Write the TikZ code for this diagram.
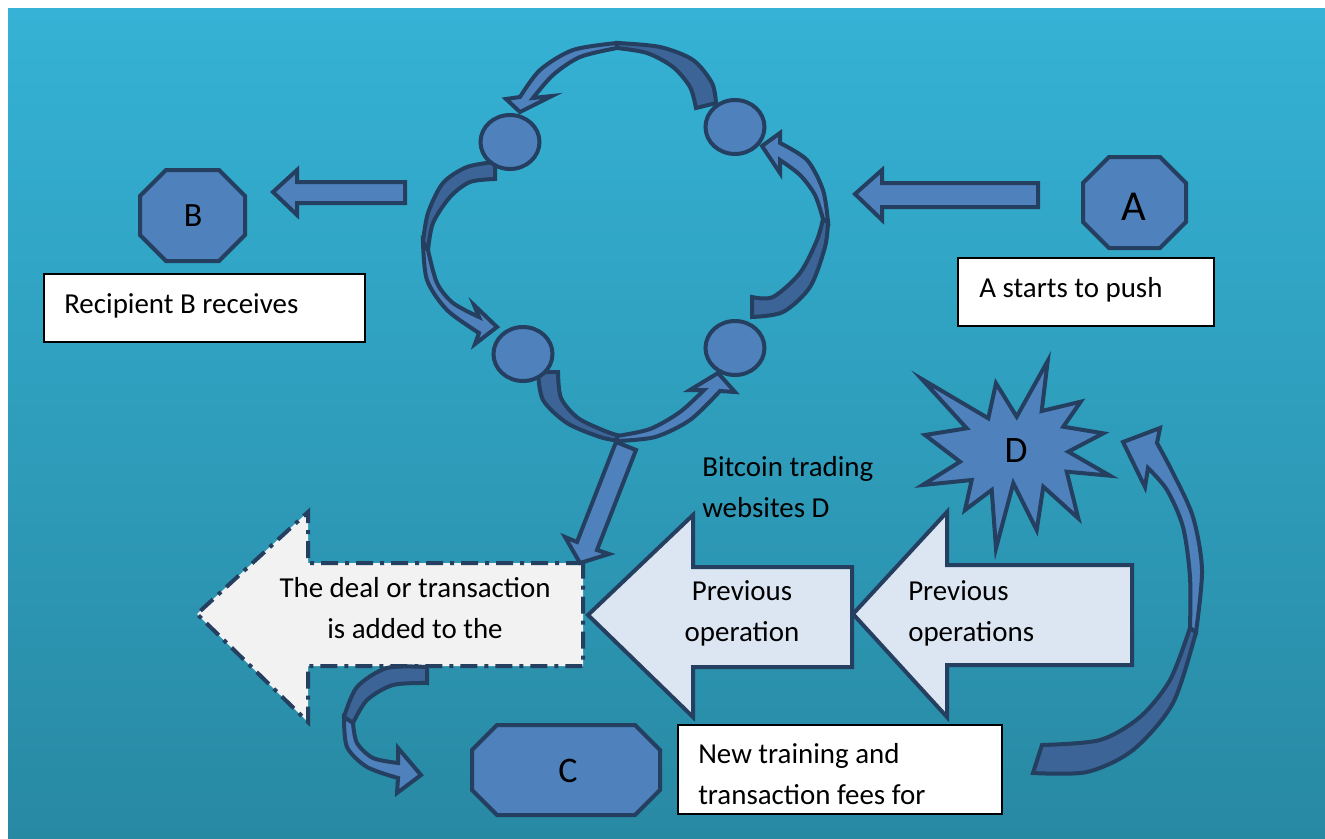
\documentclass[tikz,border=0pt]{standalone}
\usepackage{fontspec}
\setmainfont{Carlito}
\usetikzlibrary{shapes.geometric}
\definecolor{bgtop}{RGB}{53,178,213}
\definecolor{bgbot}{RGB}{40,137,163}
\definecolor{myblue}{RGB}{79,129,189}
\definecolor{myback}{RGB}{60,100,150}
\definecolor{mynavy}{RGB}{36,63,96}
\definecolor{mypale}{RGB}{220,230,242}
\definecolor{mygrey}{RGB}{242,242,242}
\newcommand{\bodyfont}{\fontsize{21.7}{30.75}\selectfont}
% octagon from its corners: x1, y1, x2, y2, chamfer
\newcommand{\octabox}[5]{%
  \draw[blueshape] ({#1+#5},#2) -- ({#3-#5},#2) -- (#3,{#2+#5}) -- (#3,{#4-#5})
    -- ({#3-#5},#4) -- ({#1+#5},#4) -- (#1,{#4-#5}) -- (#1,{#2+#5}) -- cycle;}
\tikzset{
  blueshape/.style={draw=mynavy, fill=myblue, line width=3pt},
  backshape/.style={draw=mynavy, fill=myback, line width=3pt},
  bigarrow/.style={draw=mynavy, fill=mypale, line width=3pt},
  dealarrow/.style={draw=mynavy, fill=mygrey, line width=3pt,
    dash pattern=on 12.75pt off 5.25pt on 3pt off 5.25pt},
  peer/.style={ellipse, draw=mynavy, fill=myblue, line width=3pt,
    minimum width=44.25pt, minimum height=40.5pt, inner sep=0pt},
  txtbox/.style={rectangle, draw=black, fill=white, line width=1.5pt,
    inner sep=0pt, outer sep=0pt, anchor=north west},
  txt/.style={font=\bodyfont, inner sep=0pt}
}

\begin{document}
\begin{tikzpicture}[x=0.75pt, y=-0.75pt]
  \useasboundingbox (0,0) rectangle (1325,839);
  \fill[white] (0,0) rectangle (1325,839);
  \shade[top color=bgtop, bottom color=bgbot] (8,8) rectangle (1325,839);

  % big arrows along the bottom
  \draw[bigarrow] (1132,565) -- (947,565) -- (947,512) -- (853,614) -- (947,717) -- (947,665) -- (1132,665) -- cycle;
  \draw[bigarrow] (852,567) -- (693,567) -- (693,515) -- (588,615) -- (693,717) -- (693,667) -- (852,667) -- cycle;
  \draw[dealarrow] (583,563) -- (308,563) -- (308,512) -- (197,614) -- (308,722) -- (308,666) -- (583,666) -- cycle;

  % ring drops down into the deal arrow
  \draw[blueshape] (636,450) -- (597,550) -- (609,554) -- (580,563) -- (565,537) -- (577,542) -- (616,442) -- cycle;

  % ring of curved arrows: top
  \draw[backshape] plot[smooth] coordinates {(716,103) (712,83) (693,60) (660,47) (617,43)}
    -- plot[smooth] coordinates {(617,48) (647,53) (673,67) (690,87) (696,108)} -- cycle;
  \draw[blueshape] plot[smooth] coordinates {(617,43) (573,50) (540,70) (520,97)}
    -- (506,99) -- (520,112) -- (552,96)
    -- plot[smooth] coordinates {(533,98) (553,75) (580,57) (617,48)} -- cycle;
  % left
  \draw[backshape] plot[smooth] coordinates {(495,162) (467,167) (443,183) (428,213) (423,242)}
    -- plot[smooth] coordinates {(428,250) (433,223) (450,197) (470,182) (495,179)} -- cycle;
  \draw[blueshape] plot[smooth] coordinates {(423,242) (427,280) (447,310) (479,333)}
    -- (475,344) -- (497,327) -- (474,305)
    -- plot[smooth] coordinates {(479,317) (453,303) (437,283) (428,250)} -- cycle;
  % bottom
  \draw[backshape] plot[smooth] coordinates {(538,372) (543,400) (567,423) (600,437) (620,441)}
    -- plot[smooth] coordinates {(620,436) (605,431) (578,418) (561,398) (558,372)} -- cycle;
  \draw[blueshape] plot[smooth] coordinates {(617,441) (655,437) (690,420) (720,391)}
    -- (735,392) -- (718,373) -- (690,390)
    -- plot[smooth] coordinates {(704,390) (680,412) (650,429) (617,436)} -- cycle;
  % right
  \draw[backshape] plot[smooth] coordinates {(752,317) (783,312) (810,287) (825,247) (828,222)}
    -- plot[smooth] coordinates {(823,219) (817,240) (800,273) (773,297) (752,297)} -- cycle;
  \draw[blueshape] plot[smooth] coordinates {(828,222) (823,190) (807,160) (780,143)}
    -- (780,133) -- (762,146) -- (780,173)
    -- plot[smooth] coordinates {(780,160) (800,175) (815,195) (823,219)} -- cycle;

  % peers on the ring
  \node[peer] (p1) at (510,142) {};
  \node[peer] (p2) at (735,127) {};
  \node[peer] (p3) at (523,354) {};
  \node[peer] (p4) at (735,348) {};

  % side arrows
  \draw[blueshape] (1038,183) -- (882,183) -- (882,170) -- (855,194) -- (882,220) -- (882,207) -- (1038,207) -- cycle;
  \draw[blueshape] (405,182) -- (297,182) -- (297,170) -- (273,192) -- (297,215) -- (297,203) -- (405,203) -- cycle;

  % curved arrow down to C
  \draw[backshape] plot[smooth] coordinates {(427,667) (387,668) (357,687) (344,717)}
    -- plot[smooth] coordinates {(353,723) (367,700) (393,685) (427,683)} -- cycle;
  \draw[blueshape] plot[smooth] coordinates {(344,717) (347,747) (367,767) (398,778)}
    -- (397,793) -- (421,775) -- (398,748)
    -- plot[smooth] coordinates {(398,763) (373,758) (357,743) (353,723)} -- cycle;

  % curved arrow up to D
  \draw[backshape] plot[smooth] coordinates {(1033,773) (1087,772) (1133,750) (1173,703) (1196,632)}
    -- plot[smooth] coordinates {(1190,628) (1170,680) (1140,717) (1100,740) (1042,745)} -- cycle;
  \draw[blueshape] plot[smooth] coordinates {(1196,632) (1202,570) (1193,517) (1173,473) (1157,443)}
    -- (1160,428) -- (1123,442) -- (1145,487)
    -- plot[smooth] coordinates {(1148,468) (1167,490) (1183,527) (1190,577) (1190,628)} -- cycle;

  % parties
  \octabox{1083}{157}{1186}{248}{26}
  \octabox{140}{170}{245}{261}{26}
  \octabox{472}{725}{660}{815}{25}
  \draw[blueshape] (1047.7,361) -- (1041.7,411) -- (1080.7,401.7) -- (1063.3,426.7)
    -- (1103.3,433.3) -- (1068.3,451.7) -- (1110,475.7) -- (1066.7,471.7)
    -- (1078.3,518.3) -- (1043.3,486.7) -- (1036.7,530) -- (1013.3,483.3)
    -- (996,548.3) -- (991.7,490) -- (965,510) -- (971.7,480)
    -- (922.7,485) -- (960,461.7) -- (925,435) -- (966.7,428.3)
    -- (921.7,379) -- (988.3,418.3) -- (996,383.3) -- (1016.7,416.7) -- cycle;

  \node[font=\fontsize{32}{32}\selectfont] (A) at (1134,207) {A};
  \node[font=\fontsize{25.5}{26}\selectfont] (B) at (193,216) {B};
  \node[font=\fontsize{27}{27}\selectfont] (C) at (568,771) {C};
  \node[font=\fontsize{28}{28}\selectfont] (D) at (1016,451) {D};

  % captions
  \node[txtbox, minimum width=240.75pt, minimum height=51pt] (recv) at (44,274) {};
  \node[txt, anchor=base west] (recvtext) at (64,313) {Recipient B receives};
  \node[txtbox, minimum width=192pt, minimum height=51pt] (push) at (958,258) {};
  \node[txt, anchor=base west] (pushtext) at (979,297) {A starts to push};
  \node[txtbox, minimum width=243pt, minimum height=66.75pt] (fees) at (678,725) {};
  \node[txt, align=left, anchor=base west] (feestext) at (698,804) {New training and\\transaction fees for};

  % two-line texts: the base anchor sits on the last line
  \node[txt, align=center, anchor=base] (deal) at (415,638) {The deal or transaction\\is added to the};
  \node[txt, align=center, anchor=base] (prevone) at (742,641) {Previous\\operation};
  \node[txt, align=left, anchor=base west] (prevall) at (908,641) {Previous\\operations};
  \node[txt, align=left, anchor=base west] (sites) at (702,517) {Bitcoin trading\\websites D};
\end{tikzpicture}
\end{document}
